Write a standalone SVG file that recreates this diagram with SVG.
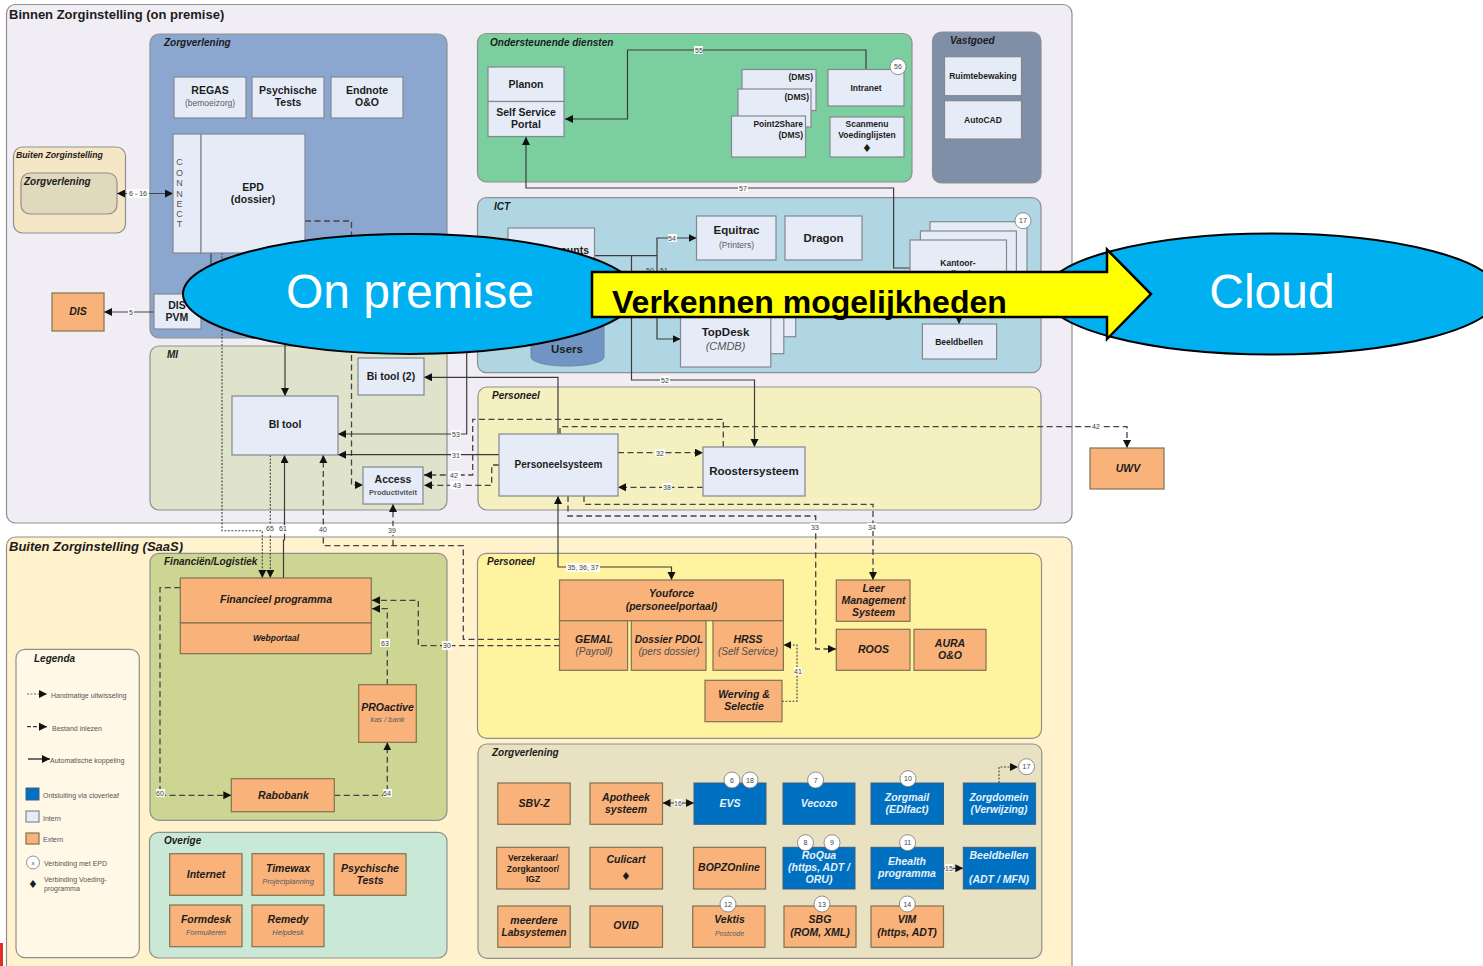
<svg xmlns="http://www.w3.org/2000/svg" width="1483" height="966" viewBox="0 0 1483 966">
<style>
text{font-family:"Liberation Sans",Arial,sans-serif;fill:#1c1c1c}
.g{stroke:#8f8f8f;stroke-width:1.2}
.i{fill:#e6ecf7;stroke:#84888f;stroke-width:1.2}
.x{fill:#f8b27a;stroke:#7f7350;stroke-width:1.2}
.b{fill:#0070c0;stroke:#3d5f80;stroke-width:1}
.c{fill:#fff;stroke:#777;stroke-width:.8}
.m{text-anchor:middle}
.e{text-anchor:end}
.n{font-weight:bold;font-size:10.5px}
.n8{font-weight:bold;font-size:8.5px}
.n11{font-weight:bold;font-size:11.5px}
.bi{font-weight:bold;font-style:italic;font-size:10.5px}
.h{font-weight:bold;font-style:italic;font-size:10px}
.s{font-size:8.5px;fill:#5a5a5a}
.si{font-size:7.5px;font-style:italic;fill:#5a5a5a}
.ri{font-size:10px;font-style:italic;fill:#4d4d4d}
.w{font-style:italic;font-size:10.5px;font-weight:bold;fill:#e8f1fa}
.l{font-size:7px;fill:#555}
.cn{font-size:7px;fill:#444;text-anchor:middle}
.con{font-size:9px;fill:#555;text-anchor:middle}
.k{fill:none;stroke:#3c3c3c;stroke-width:1.2}
.kd{fill:none;stroke:#444;stroke-width:1.3;stroke-dasharray:6 3.5}
.kt{fill:none;stroke:#444;stroke-width:1.1;stroke-dasharray:2 1.5}
.lb{fill:#fff;stroke:none;opacity:.9}
.a{marker-end:url(#a)}
.aa{marker-start:url(#as);marker-end:url(#a)}
.big{font-size:48px;fill:#fff;text-anchor:middle}
.sh{fill:#00b0f0;stroke:#000;stroke-width:2}
</style>
<defs>
<marker id="a" markerUnits="userSpaceOnUse" markerWidth="9" markerHeight="9" refX="8" refY="4" orient="auto"><path d="M0 0L8 4L0 8Z" fill="#111"/></marker>
<marker id="as" markerUnits="userSpaceOnUse" markerWidth="9" markerHeight="9" refX="0" refY="4" orient="auto"><path d="M8 0L0 4L8 8Z" fill="#111"/></marker>
</defs>

<g id="containers">
<rect class="g" x="6.5" y="4.5" width="1065.5" height="518.5" rx="9" fill="#f0eef4"/>
<rect class="g" x="6.5" y="537" width="1065.5" height="440" rx="9" fill="#fff2cc"/>
<text x="9" y="19" font-size="13" font-weight="bold">Binnen Zorginstelling (on premise)</text>
<text x="9" y="551" font-size="13" font-weight="bold" font-style="italic">Buiten Zorginstelling (SaaS)</text>
<rect class="g" x="150" y="34" width="297" height="304" rx="9" fill="#8ba6cf"/><text class="h" x="164" y="46">Zorgverlening</text>
<rect class="g" x="13.500" y="147" width="112" height="86" rx="9" fill="#f5e6c5"/><text x="16" y="158" font-size="8.700" font-weight="bold" font-style="italic">Buiten Zorginstelling</text>
<rect class="g" x="21" y="173" width="96" height="41" rx="9" fill="#e0d9bd"/><text class="h" x="24" y="185">Zorgverlening</text>
<rect class="g" x="150" y="346" width="297" height="164" rx="9" fill="#dfe3cb"/><text class="h" x="167" y="358">MI</text>
<rect class="g" x="478" y="387" width="563" height="123" rx="9" fill="#f5f0bf"/><text class="h" x="492" y="399">Personeel</text>
<rect class="g" x="477.500" y="33.500" width="434.500" height="148.500" rx="9" fill="#7bcf9f"/><text class="h" x="490" y="46">Ondersteunende diensten</text>
<rect class="g" x="932.500" y="32" width="108.500" height="151" rx="9" fill="#7f8fa8"/><text class="h" x="950" y="44">Vastgoed</text>
<rect class="g" x="477.500" y="197.700" width="563.500" height="175" rx="9" fill="#b0d5e3"/><text class="h" x="494" y="210">ICT</text>
<rect class="g" x="150" y="553.300" width="297" height="267" rx="9" fill="#cdd593"/><text class="h" x="164" y="565">Financiën/Logistiek</text>
<rect class="g" x="149.500" y="832.300" width="297.500" height="125.700" rx="9" fill="#c9e8d5"/><text class="h" x="164" y="844">Overige</text>
<rect class="g" x="477.500" y="553.300" width="564" height="185" rx="9" fill="#fff3a0"/><text class="h" x="487" y="565">Personeel</text>
<rect class="g" x="478" y="744" width="563.800" height="214.300" rx="9" fill="#e8e2c3"/><text class="h" x="492" y="756">Zorgverlening</text>
</g>

<g id="connectors">
<path class="aa" d="M117 193.500H173" fill="none" stroke="#444" stroke-width="1.100"/><rect class="lb" x="127" y="189" width="22" height="9"/><text class="cn" x="138" y="196">6 - 16</text>
<path class="a" d="M154 312H104" fill="none" stroke="#444" stroke-width="1.100"/><rect class="lb" x="128" y="308" width="6" height="8"/><text class="cn" x="131" y="315">5</text>
<path class="k" d="M211 253V294"/>
<path class="k a" d="M285 340V396" stroke-width="1.500"/>
<path class="kd a" d="M305 221H351.500V485H363"/>
<path class="kt a" d="M222 253V530.700H262.300V578"/>
<path class="k a" d="M594 255.700H657V238H696.500"/><rect class="lb" x="668" y="234" width="9" height="8"/><text class="cn" x="672" y="241">54</text>
<path class="k a" d="M657 255.700V339H680.500"/><text class="cn" x="650" y="273">50</text><text class="cn" x="664" y="273">51</text>
<path class="k a" d="M631.500 255.700V380H754.500V447"/><rect class="lb" x="660" y="376" width="10" height="8"/><text class="cn" x="665" y="383">52</text>
<path class="k a" d="M466.700 330V434H338"/><rect class="lb" x="451" y="430" width="10" height="8"/><text class="cn" x="456" y="437">53</text>
<path class="k a" d="M558 434V377.300H424"/>
<path class="k a" d="M499 454.700H338"/><rect class="lb" x="451" y="451" width="10" height="8"/><text class="cn" x="456" y="458">31</text>
<path class="kd a" d="M723.300 447V419.300H472.700V475H424"/><rect class="lb" x="448" y="471" width="13" height="8"/><text class="cn" x="454" y="478">42</text>
<path class="kd a" d="M499 465H491.700V485.300H424"/><rect class="lb" x="450" y="481" width="13" height="8"/><text class="cn" x="457" y="488">43</text>
<path class="kd a" d="M560 434V426.700H1127V448"/><rect class="lb" x="1091" y="422" width="10" height="9"/><text class="cn" x="1096" y="429">42</text>
<path class="kd a" d="M618 452.700H703"/><rect class="lb" x="655" y="449" width="10" height="8"/><text class="cn" x="660" y="456">32</text>
<path class="kd a" d="M703 487.300H618"/><rect class="lb" x="662" y="483" width="10" height="8"/><text class="cn" x="667" y="490">38</text>
<path class="kd a" d="M568 496V516H815.700V649H836"/><rect class="lb" x="810" y="523" width="10" height="8"/><text class="cn" x="815" y="530">33</text>
<path class="kd a" d="M584 496V504.300H873V580"/><rect class="lb" x="867" y="523" width="10" height="8"/><text class="cn" x="872" y="530">34</text>
<path class="k aa" d="M558 496V567H671.500V580"/><rect class="lb" x="566" y="563" width="34" height="9"/><text class="cn" x="583" y="570">35, 36, 37</text>
<path class="kt a" d="M270.300 455V578"/><rect class="lb" x="265" y="525" width="10" height="9"/><text class="cn" x="270" y="531">65</text>
<path class="k a" d="M283.500 578V540H284.500V455" stroke-width="1.500"/><rect class="lb" x="278" y="525" width="10" height="9"/><text class="cn" x="283" y="531">61</text>
<path class="kd a" d="M560 639.300H463.300V545.700H323.300V455"/><rect class="lb" x="318" y="526" width="10" height="9"/><text class="cn" x="323" y="532">40</text>
<path class="kd a" d="M393 545.700V504"/><rect class="lb" x="387" y="526" width="10" height="9"/><text class="cn" x="392" y="533">39</text>
<path class="kd a" d="M560 645.700H418.300V600.300H372"/><rect class="lb" x="442" y="641" width="10" height="9"/><text class="cn" x="447" y="648">30</text>
<path class="kd a" d="M387.300 685V608.700H372"/><rect class="lb" x="380" y="639" width="10" height="8"/><text class="cn" x="385" y="646">63</text>
<path class="kd a" d="M180.300 587.700H160V795.300H231.300"/><rect class="lb" x="156" y="789" width="9" height="8"/><text class="cn" x="160" y="796">60</text>
<path class="kd a" d="M334.300 795.300H387.300V742.300"/><rect class="lb" x="383" y="789" width="9" height="8"/><text class="cn" x="387" y="796">64</text>
<path class="kt a" d="M782 701.300H797V645H783.400"/><rect class="lb" x="794" y="667" width="8" height="8"/><text class="cn" x="798" y="674">41</text>
<path class="aa" d="M662.500 803H694" fill="none" stroke="#444" stroke-width="1.100"/><rect class="lb" x="674" y="799" width="8" height="8"/><text class="cn" x="678" y="806">16</text>
<path class="a" d="M943.500 868.300H963.300" fill="none" stroke="#444" stroke-width="1.100"/><rect class="lb" x="945" y="864" width="8" height="8"/><text class="cn" x="949" y="871">15</text>
<path class="kt a" d="M999 783V767H1018"/>
<path class="k a" d="M866 70V50H627.500V119H565"/><rect class="lb" x="694" y="46" width="9" height="8"/><text class="cn" x="699" y="53">55</text>
<path class="k a" d="M910 268H893.600V188H526V137"/><rect class="lb" x="738" y="184" width="10" height="8"/><text class="cn" x="743" y="191">57</text>
<path class="k a" d="M959 300V324"/>
</g>

<g id="regas"><rect class="i" x="174" y="77" width="72" height="41"/><text class="n m" x="210" y="94">REGAS</text><text class="s m" x="210" y="106">(bemoeizorg)</text></g>
<g id="psychische-intern"><rect class="i" x="252" y="77" width="72" height="41"/><text class="n m" x="288" y="94">Psychische</text><text class="n m" x="288" y="106">Tests</text></g>
<g id="endnote"><rect class="i" x="331" y="77" width="72" height="41"/><text class="n m" x="367" y="94">Endnote</text><text class="n m" x="367" y="106">O&amp;O</text></g>
<g id="connect"><rect class="i" x="173" y="134" width="28" height="119"/><text class="con" x="179.500" y="165">C</text><text class="con" x="179.500" y="175.500">O</text><text class="con" x="179.500" y="186">N</text><text class="con" x="179.500" y="196.500">N</text><text class="con" x="179.500" y="207">E</text><text class="con" x="179.500" y="217">C</text><text class="con" x="179.500" y="227">T</text></g>
<g id="epd"><rect class="i" x="201" y="134" width="104" height="119"/><text class="n m" x="253" y="191">EPD</text><text class="n m" x="253" y="203">(dossier)</text></g>
<g id="dis"><rect class="x" x="52" y="293" width="52" height="38"/><text class="bi m" x="78" y="315">DIS</text></g>
<g id="dis-pvm"><rect class="i" x="154" y="294" width="47" height="35"/><text class="n m" x="177" y="309">DIS</text><text class="n m" x="177" y="321">PVM</text></g>
<g id="bi-tool"><rect class="i" x="232" y="396" width="106" height="59"/><text class="n m" x="285" y="428">BI tool</text></g>
<g id="bi-tool-2"><rect class="i" x="358" y="358" width="66" height="37"/><text class="n m" x="391" y="380">Bi tool (2)</text></g>
<g id="access"><rect class="i" x="363" y="467" width="60" height="37"/><text class="n m" x="393" y="483">Access</text><text class="m" font-size="7.500" font-weight="bold" style="fill:#555" x="393" y="495">Productiviteit</text></g>
<g id="personeelsysteem"><rect class="i" x="499" y="434" width="119" height="62"/><text class="m" font-weight="bold" font-size="10" x="558.500" y="468">Personeelsysteem</text></g>
<g id="roostersysteem"><rect class="i" x="703" y="447" width="102" height="49"/><text class="n11 m" x="754" y="475">Roostersysteem</text></g>
<g id="uwv"><rect class="x" x="1090" y="448" width="74" height="41"/><text class="bi m" x="1128" y="472">UWV</text></g>
<g id="planon"><rect class="i" x="488" y="67" width="76" height="34.500"/><text class="n m" x="526" y="88">Planon</text></g>
<g id="self-service"><rect class="i" x="488" y="101.500" width="76" height="35"/><text class="n m" x="526" y="116">Self Service</text><text class="n m" x="526" y="128">Portal</text></g>
<g id="dms-1"><rect class="i" x="742" y="69.500" width="74" height="41"/><text class="n8 e" x="813" y="80">(DMS)</text></g>
<g id="dms-2"><rect class="i" x="738" y="89" width="73" height="38"/><text class="n8 e" x="809" y="100">(DMS)</text></g>
<g id="point2share"><rect class="i" x="731.500" y="116" width="74" height="41"/><text class="n8 e" x="803" y="127">Point2Share</text><text class="n8 e" x="803" y="138">(DMS)</text></g>
<g id="intranet"><rect class="i" x="828" y="69.500" width="76" height="36.500"/><text class="n8 m" x="866" y="91">Intranet</text><circle class="c" cx="898" cy="66.700" r="8"/><text class="cn" x="898" y="69">56</text></g>
<g id="scanmenu"><rect class="i" x="830" y="117" width="74" height="40"/><text class="n8 m" x="867" y="127">Scanmenu</text><text class="n8 m" x="867" y="138">Voedinglijsten</text><text class="m" font-size="11" x="867" y="151.500" style="font-family:'DejaVu Sans',sans-serif">♦</text></g>
<g id="ruimtebewaking"><rect class="i" x="944.500" y="56.700" width="77" height="39"/><text class="n8 m" x="983" y="79">Ruimtebewaking</text></g>
<g id="autocad"><rect class="i" x="944.500" y="100.700" width="77" height="38.300"/><text class="n8 m" x="983" y="123">AutoCAD</text></g>
<g id="accounts"><rect class="i" x="508" y="228" width="86.500" height="60"/><text class="n e" x="589" y="254">Accounts</text></g>
<g id="equitrac"><rect class="i" x="696.500" y="216" width="79.500" height="44"/><text class="n11 m" x="736.500" y="234">Equitrac</text><text class="s m" x="736.500" y="248">(Printers)</text></g>
<g id="dragon"><rect class="i" x="785" y="216" width="77" height="44"/><text class="n11 m" x="823.500" y="242">Dragon</text></g>
<g id="kantoor"><rect class="i" x="930" y="221.700" width="97" height="60"/><rect class="i" x="920.400" y="231" width="96" height="60"/><rect class="i" x="910" y="240" width="96.500" height="60"/><text class="n8 m" x="958" y="266">Kantoor-</text><text class="n8 m" x="958" y="277">applicaties</text><circle class="c" cx="1023" cy="220.700" r="8"/><text class="cn" x="1023" y="223">17</text></g>
<g id="beeldbellen-ict"><rect class="i" x="922.400" y="324" width="74.200" height="35"/><text class="n8 m" x="959" y="345">Beeldbellen</text></g>
<g id="topdesk"><rect class="i" x="700" y="290" width="95.700" height="46.700"/><rect class="i" x="690" y="295" width="93.800" height="58.700"/><rect class="i" x="680.500" y="300" width="90.300" height="67"/><text class="n11 m" x="725.500" y="336">TopDesk</text><text class="m" font-size="11" font-style="italic" style="fill:#555" x="725.500" y="350">(CMDB)</text></g>
<g id="users"><path d="M531 300V357C531 362 547 366 567.500 366S604 362 604 357V300Z" fill="#7094c4" stroke="#6a86a8" stroke-width="1"/><text class="n11 m" x="567" y="353">Users</text></g>

<g id="financieel"><rect class="x" x="180.300" y="578" width="191" height="45"/><text class="bi m" x="276" y="603">Financieel programma</text></g>
<g id="webportaal"><rect class="x" x="180.300" y="623" width="191" height="30.700"/><text class="bi m" style="font-size:8.500px" x="276" y="641">Webportaal</text></g>
<g id="proactive"><rect class="x" x="358.700" y="684.700" width="57.600" height="57.600"/><text class="bi m" x="387.500" y="711">PROactive</text><text class="si m" x="387.500" y="722">kas / bank</text></g>
<g id="rabobank"><rect class="x" x="231.300" y="778.700" width="103" height="33"/><text class="bi m" x="283.500" y="799">Rabobank</text></g>
<g id="internet"><rect class="x" x="169.700" y="853.700" width="72.300" height="41.600"/><text class="bi m" x="206" y="878">Internet</text></g>
<g id="timewax"><rect class="x" x="252" y="853.700" width="72" height="41.600"/><text class="bi m" x="288" y="872">Timewax</text><text class="si m" x="288" y="884">Projectplanning</text></g>
<g id="psychische-saas"><rect class="x" x="334" y="853.700" width="72" height="41.600"/><text class="bi m" x="370" y="872">Psychische</text><text class="bi m" x="370" y="884">Tests</text></g>
<g id="formdesk"><rect class="x" x="169.700" y="905" width="72.300" height="41.700"/><text class="bi m" x="206" y="923">Formdesk</text><text class="si m" x="206" y="935">Formulieren</text></g>
<g id="remedy"><rect class="x" x="252" y="905" width="72" height="41.700"/><text class="bi m" x="288" y="923">Remedy</text><text class="si m" x="288" y="935">Helpdesk</text></g>

<g id="youforce"><rect class="x" x="559.500" y="580" width="223.900" height="40.700"/><text class="bi m" x="671.500" y="597">Youforce</text><text class="bi m" x="671.500" y="610">(personeelportaal)</text></g>
<g id="gemal"><rect class="x" x="559.500" y="620.700" width="68.100" height="49.600"/><text class="bi m" x="594" y="643">GEMAL</text><text class="ri m" x="594" y="655">(Payroll)</text></g>
<g id="dossier"><rect class="x" x="631.300" y="620.700" width="74.700" height="49.600"/><text class="bi m" style="font-size:10.200px" x="669" y="643">Dossier PDOL</text><text class="ri m" x="669" y="655">(pers dossier)</text></g>
<g id="hrss"><rect class="x" x="713" y="620.700" width="70.400" height="49.600"/><text class="bi m" x="748" y="643">HRSS</text><text class="ri m" x="748" y="655">(Self Service)</text></g>
<g id="werving"><rect class="x" x="705" y="680.300" width="77" height="41.400"/><text class="bi m" x="744" y="698">Werving &amp;</text><text class="bi m" x="744" y="710">Selectie</text></g>
<g id="leer"><rect class="x" x="836.300" y="580" width="73.700" height="41.300"/><text class="bi m" x="873.500" y="592">Leer</text><text class="bi m" x="873.500" y="604">Management</text><text class="bi m" x="873.500" y="616">Systeem</text></g>
<g id="roos"><rect class="x" x="836.300" y="629.300" width="73.700" height="41"/><text class="bi m" x="873.500" y="653">ROOS</text></g>
<g id="aura"><rect class="x" x="914" y="629.300" width="72" height="41"/><text class="bi m" x="950" y="647">AURA</text><text class="bi m" x="950" y="659">O&amp;O</text></g>

<g id="sbv-z"><rect class="x" x="497.800" y="783" width="72.400" height="41.300"/><text class="bi m" x="534" y="807">SBV-Z</text></g>
<g id="apotheek"><rect class="x" x="590" y="783" width="72.500" height="41.300"/><text class="bi m" x="626" y="801">Apotheek</text><text class="bi m" x="626" y="813">systeem</text></g>
<g id="evs"><rect class="b" x="694" y="783" width="72" height="41.300"/><text class="w m" x="730" y="807">EVS</text><circle class="c" cx="732" cy="780" r="8"/><text class="cn" x="732" y="782.500">6</text><circle class="c" cx="750" cy="780" r="8"/><text class="cn" x="750" y="782.500">18</text></g>
<g id="vecozo"><rect class="b" x="783" y="783" width="72" height="41.300"/><text class="w m" x="819" y="807">Vecozo</text><circle class="c" cx="815.600" cy="780" r="8"/><text class="cn" x="815.600" y="782.500">7</text></g>
<g id="zorgmail"><rect class="b" x="871" y="783" width="72.500" height="41.300"/><text class="w m" x="907" y="801">Zorgmail</text><text class="w m" x="907" y="813">(EDIfact)</text><circle class="c" cx="908" cy="778.700" r="8"/><text class="cn" x="908" y="781">10</text></g>
<g id="zorgdomein"><rect class="b" x="963.300" y="783" width="72.300" height="41.300"/><text class="w m" style="font-size:10.200px" x="999" y="801">Zorgdomein</text><text class="w m" style="font-size:10.200px" x="999" y="813">(Verwijzing)</text><circle class="c" cx="1026.500" cy="766.700" r="8"/><text class="cn" x="1026.500" y="769">17</text></g>
<g id="verzekeraar"><rect class="x" x="496.700" y="847.300" width="72.300" height="41.700"/><text class="n8 m" x="533" y="861">Verzekeraar/</text><text class="n8 m" x="533" y="872">Zorgkantoor/</text><text class="n8 m" x="533" y="882">IGZ</text></g>
<g id="culicart"><rect class="x" x="590" y="847.300" width="72.500" height="41.700"/><text class="bi m" x="626" y="863">Culicart</text><text class="m" font-size="11" x="626" y="880" style="font-family:'DejaVu Sans',sans-serif">♦</text></g>
<g id="bopz"><rect class="x" x="693.500" y="847.300" width="72" height="41.700"/><text class="bi m" x="729" y="871">BOPZOnline</text></g>
<g id="roqua"><rect class="b" x="783" y="847.300" width="72" height="41.700"/><text class="w m" x="819" y="859">RoQua</text><text class="w m" x="819" y="871">(https, ADT /</text><text class="w m" x="819" y="883">ORU)</text><circle class="c" cx="805.500" cy="842.700" r="8"/><text class="cn" x="805.500" y="845">8</text><circle class="c" cx="832" cy="842.700" r="8"/><text class="cn" x="832" y="845">9</text></g>
<g id="ehealth"><rect class="b" x="871" y="847.300" width="72.500" height="41.700"/><text class="w m" x="907" y="865">Ehealth</text><text class="w m" x="907" y="877">programma</text><circle class="c" cx="907.600" cy="842.700" r="8"/><text class="cn" x="907.600" y="845">11</text></g>
<g id="beeldbellen"><rect class="b" x="963.300" y="847.300" width="72.300" height="41.700"/><text class="w m" x="999" y="859">Beeldbellen</text><text class="w m" x="999" y="883">(ADT / MFN)</text></g>
<g id="labsystemen"><rect class="x" x="497.800" y="906" width="72.400" height="41.300"/><text class="bi m" x="534" y="924">meerdere</text><text class="bi m" style="font-size:10.200px" x="534" y="936">Labsystemen</text></g>
<g id="ovid"><rect class="x" x="590" y="906" width="72.500" height="41.300"/><text class="bi m" x="626" y="929">OVID</text></g>
<g id="vektis"><rect class="x" x="692.700" y="906" width="72.300" height="41.300"/><text class="bi m" x="729.500" y="923">Vektis</text><text class="si m" style="font-size:7px" x="729.500" y="936">Postcode</text><circle class="c" cx="728" cy="904" r="8"/><text class="cn" x="728" y="906.500">12</text></g>
<g id="sbg"><rect class="x" x="784" y="906" width="72" height="41.300"/><text class="bi m" x="820" y="923">SBG</text><text class="bi m" x="820" y="936">(ROM, XML)</text><circle class="c" cx="822" cy="904" r="8"/><text class="cn" x="822" y="906.500">13</text></g>
<g id="vim"><rect class="x" x="871" y="906" width="72.500" height="41.300"/><text class="bi m" x="907" y="923">VIM</text><text class="bi m" x="907" y="936">(https, ADT)</text><circle class="c" cx="907.300" cy="904" r="8"/><text class="cn" x="907.300" y="906.500">14</text></g>

<g id="legenda">
<rect class="g" x="16" y="649.300" width="123.300" height="308.400" rx="9" fill="#fff8e6"/>
<text class="h" x="34" y="662">Legenda</text>
<path class="kt a" d="M27 694H47" style="stroke-width:.8"/><text class="l" x="51" y="698">Handmatige uitwisseling</text>
<path class="kd a" d="M27 726.700H47" style="stroke-dasharray:4 2;stroke:#111;stroke-width:1"/><text class="l" x="52" y="731">Bestand inlezen</text>
<path class="a" d="M28 759H50" fill="none" stroke="#111" stroke-width="1.200"/><text class="l" x="50" y="763">Automatische koppeling</text>
<rect class="b" x="26" y="788" width="13" height="12"/><text class="l" x="43" y="798">Ontsluiting via cloverleaf</text>
<rect class="i" x="26" y="811" width="13" height="11"/><text class="l" x="43" y="821">Intern</text>
<rect class="x" x="26" y="833" width="13" height="11"/><text class="l" x="43" y="842">Extern</text>
<circle class="c" cx="33" cy="862.500" r="6.500"/><text class="cn" x="33" y="865" style="font-size:6px">x</text><text class="l" x="44" y="866">Verbinding met EPD</text>
<text class="m" font-size="11" x="33" y="888" style="font-family:'DejaVu Sans',sans-serif">♦</text><text class="l" x="44" y="882">Verbinding Voeding-</text><text class="l" x="44" y="891">programma</text>
</g>
<rect x="0" y="943" width="3" height="23" fill="#e0302a"/>

<g id="on-premise"><ellipse class="sh" cx="410" cy="294" rx="227" ry="60"/><text class="big" x="410" y="308">On premise</text></g>
<g id="cloud"><ellipse class="sh" cx="1272" cy="294" rx="228" ry="60.500"/><text class="big" x="1272" y="308">Cloud</text></g>
<g id="verkennen"><path d="M592 272H1107V249.500L1151 294L1107 339V317H592Z" fill="#ff0" stroke="#000" stroke-width="2.500"/><text x="612" y="313" font-size="32" font-weight="bold" style="fill:#000">Verkennen mogelijkheden</text></g>
</svg>
